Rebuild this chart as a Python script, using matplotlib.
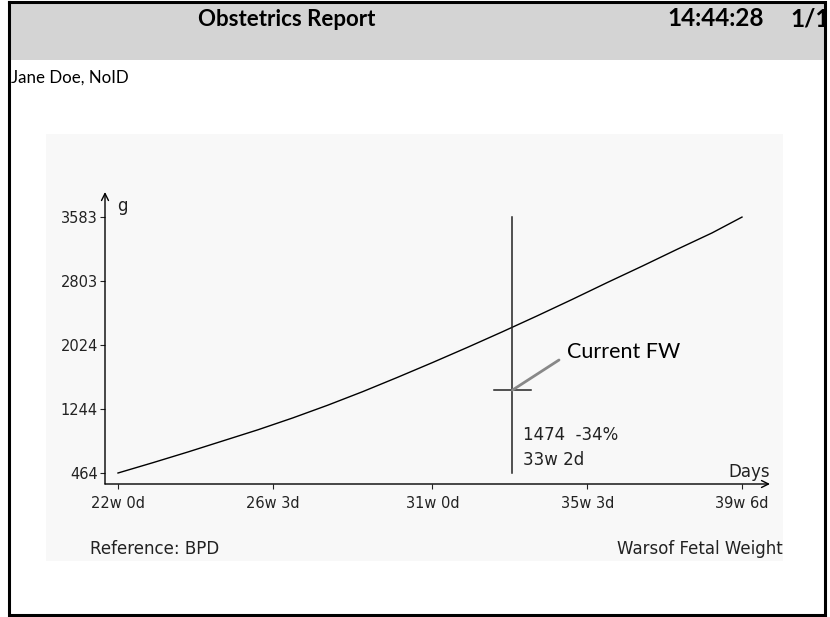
import matplotlib.pyplot as plt
from matplotlib.patches import Rectangle

# Warsof fetal weight reference curve (gestational age in days, weight in g)
ga_days = [154, 161, 168, 175, 182, 189, 196, 203, 210, 217,
           224, 231, 238, 245, 252, 259, 266, 273, 279]
fw_grams = [464, 590, 720, 855, 990, 1135, 1290, 1455, 1630, 1810,
            1995, 2185, 2380, 2580, 2785, 2985, 3190, 3390, 3583]

x_tick_days = [154, 185, 217, 248, 279]
x_tick_labels = ['22w 0d', '26w 3d', '31w 0d', '35w 3d', '39w 6d']
y_ticks = [464, 1244, 2024, 2803, 3583]

# current exam
cur_day = 233
cur_fw = 1474
cur_pct = -34
cur_label = '33w 2d'

W, H = 830, 617
fig = plt.figure(figsize=(W / 100, H / 100), dpi=100)

# page layer in pixel coordinates
bg = fig.add_axes([0, 0, 1, 1])
bg.set_xlim(0, W)
bg.set_ylim(H, 0)
bg.axis('off')

bg.add_patch(Rectangle((10, 3), 814, 57, color='#d4d4d4', lw=0))
bg.add_patch(Rectangle((46, 134), 737, 427, color='#f8f8f8', lw=0))

bg.text(287, 19, 'Obstetrics Report', family='Lato', weight='bold',
        fontsize=16, ha='center', va='center')
bg.text(667, 19, '14:44:28', family='Lato', weight='bold',
        fontsize=17.5, ha='left', va='center')
bg.text(790, 19, '1/1', family='Lato', weight='bold',
        fontsize=17.5, ha='left', va='center')
bg.text(11, 78, 'Jane Doe, NoID', family='Lato', fontsize=12.2,
        ha='left', va='center')
bg.text(90, 549, 'Reference: BPD', fontsize=12, ha='left', va='center',
        color='#222222')
bg.text(783, 549, 'Warsof Fetal Weight', fontsize=12, ha='right',
        va='center', color='#222222')

# page border drawn over the header text
bg.plot([9, 9, 825, 825, 9], [2, 615, 615, 2, 2], color='black', lw=2.2,
        solid_joinstyle='miter', zorder=5)
bg.add_patch(Rectangle((826, 0), 4, H, color='white', lw=0, zorder=4))

# chart axes
ax = fig.add_axes([105 / W, (H - 484) / H, 665 / W, 292 / H])
ax.patch.set_alpha(0)
px_day = 624 / 125
g_px = 780 / 64
ax.set_xlim(154 - 13 / px_day, 154 + 652 / px_day)
ax.set_ylim(464 - 11 * g_px, 464 + 281 * g_px)
for s in ax.spines.values():
    s.set_visible(False)

arrow = dict(arrowstyle='->,head_length=0.5,head_width=0.25', lw=1,
             color='black', shrinkA=0, shrinkB=0)
ax.annotate('', xy=(0, 1), xytext=(0, 0), xycoords='axes fraction',
            arrowprops=arrow)
ax.annotate('', xy=(1, 0), xytext=(0, 0), xycoords='axes fraction',
            arrowprops=arrow)

ax.set_xticks(x_tick_days)
ax.set_xticklabels(x_tick_labels)
ax.set_yticks(y_ticks)
ax.set_yticklabels([str(v) for v in y_ticks])
ax.tick_params(direction='out', length=3.6, width=0.8, labelsize=10.5,
               colors='#222222')
ax.tick_params(axis='y', pad=1.5)
ax.tick_params(axis='x', pad=5)

ax.plot(ga_days, fw_grams, color='black', lw=1.0)

# current fetal weight marker
ax.plot([cur_day, cur_day], [y_ticks[0], y_ticks[-1]], color='#222222', lw=1.1)
ax.plot([cur_day - 3.7, cur_day + 3.7], [cur_fw, cur_fw], color='#222222',
        lw=1.1)
ax.annotate('', xy=(cur_day, cur_fw), xytext=(559, H - 360),
            textcoords='figure pixels',
            arrowprops=dict(arrowstyle='-', color='#888888', lw=2,
                            shrinkA=0, shrinkB=0))
ax.text(567, H - 352, 'Current FW', transform=None, family='Lato',
        fontsize=15.5, ha='left', va='center')
ax.text(523, H - 435, f'{cur_fw}  {cur_pct}%', transform=None,
        fontsize=12, ha='left', va='center', color='#222222')
ax.text(523, H - 460, cur_label, transform=None,
        fontsize=12, ha='left', va='center', color='#222222')

ax.text(770, H - 472, 'Days', transform=None, fontsize=12,
        ha='right', va='center', color='#222222')
ax.text(117, H - 206, 'g', transform=None, fontsize=12,
        ha='left', va='center', color='#222222')

fig.savefig('out.png', dpi=100)
